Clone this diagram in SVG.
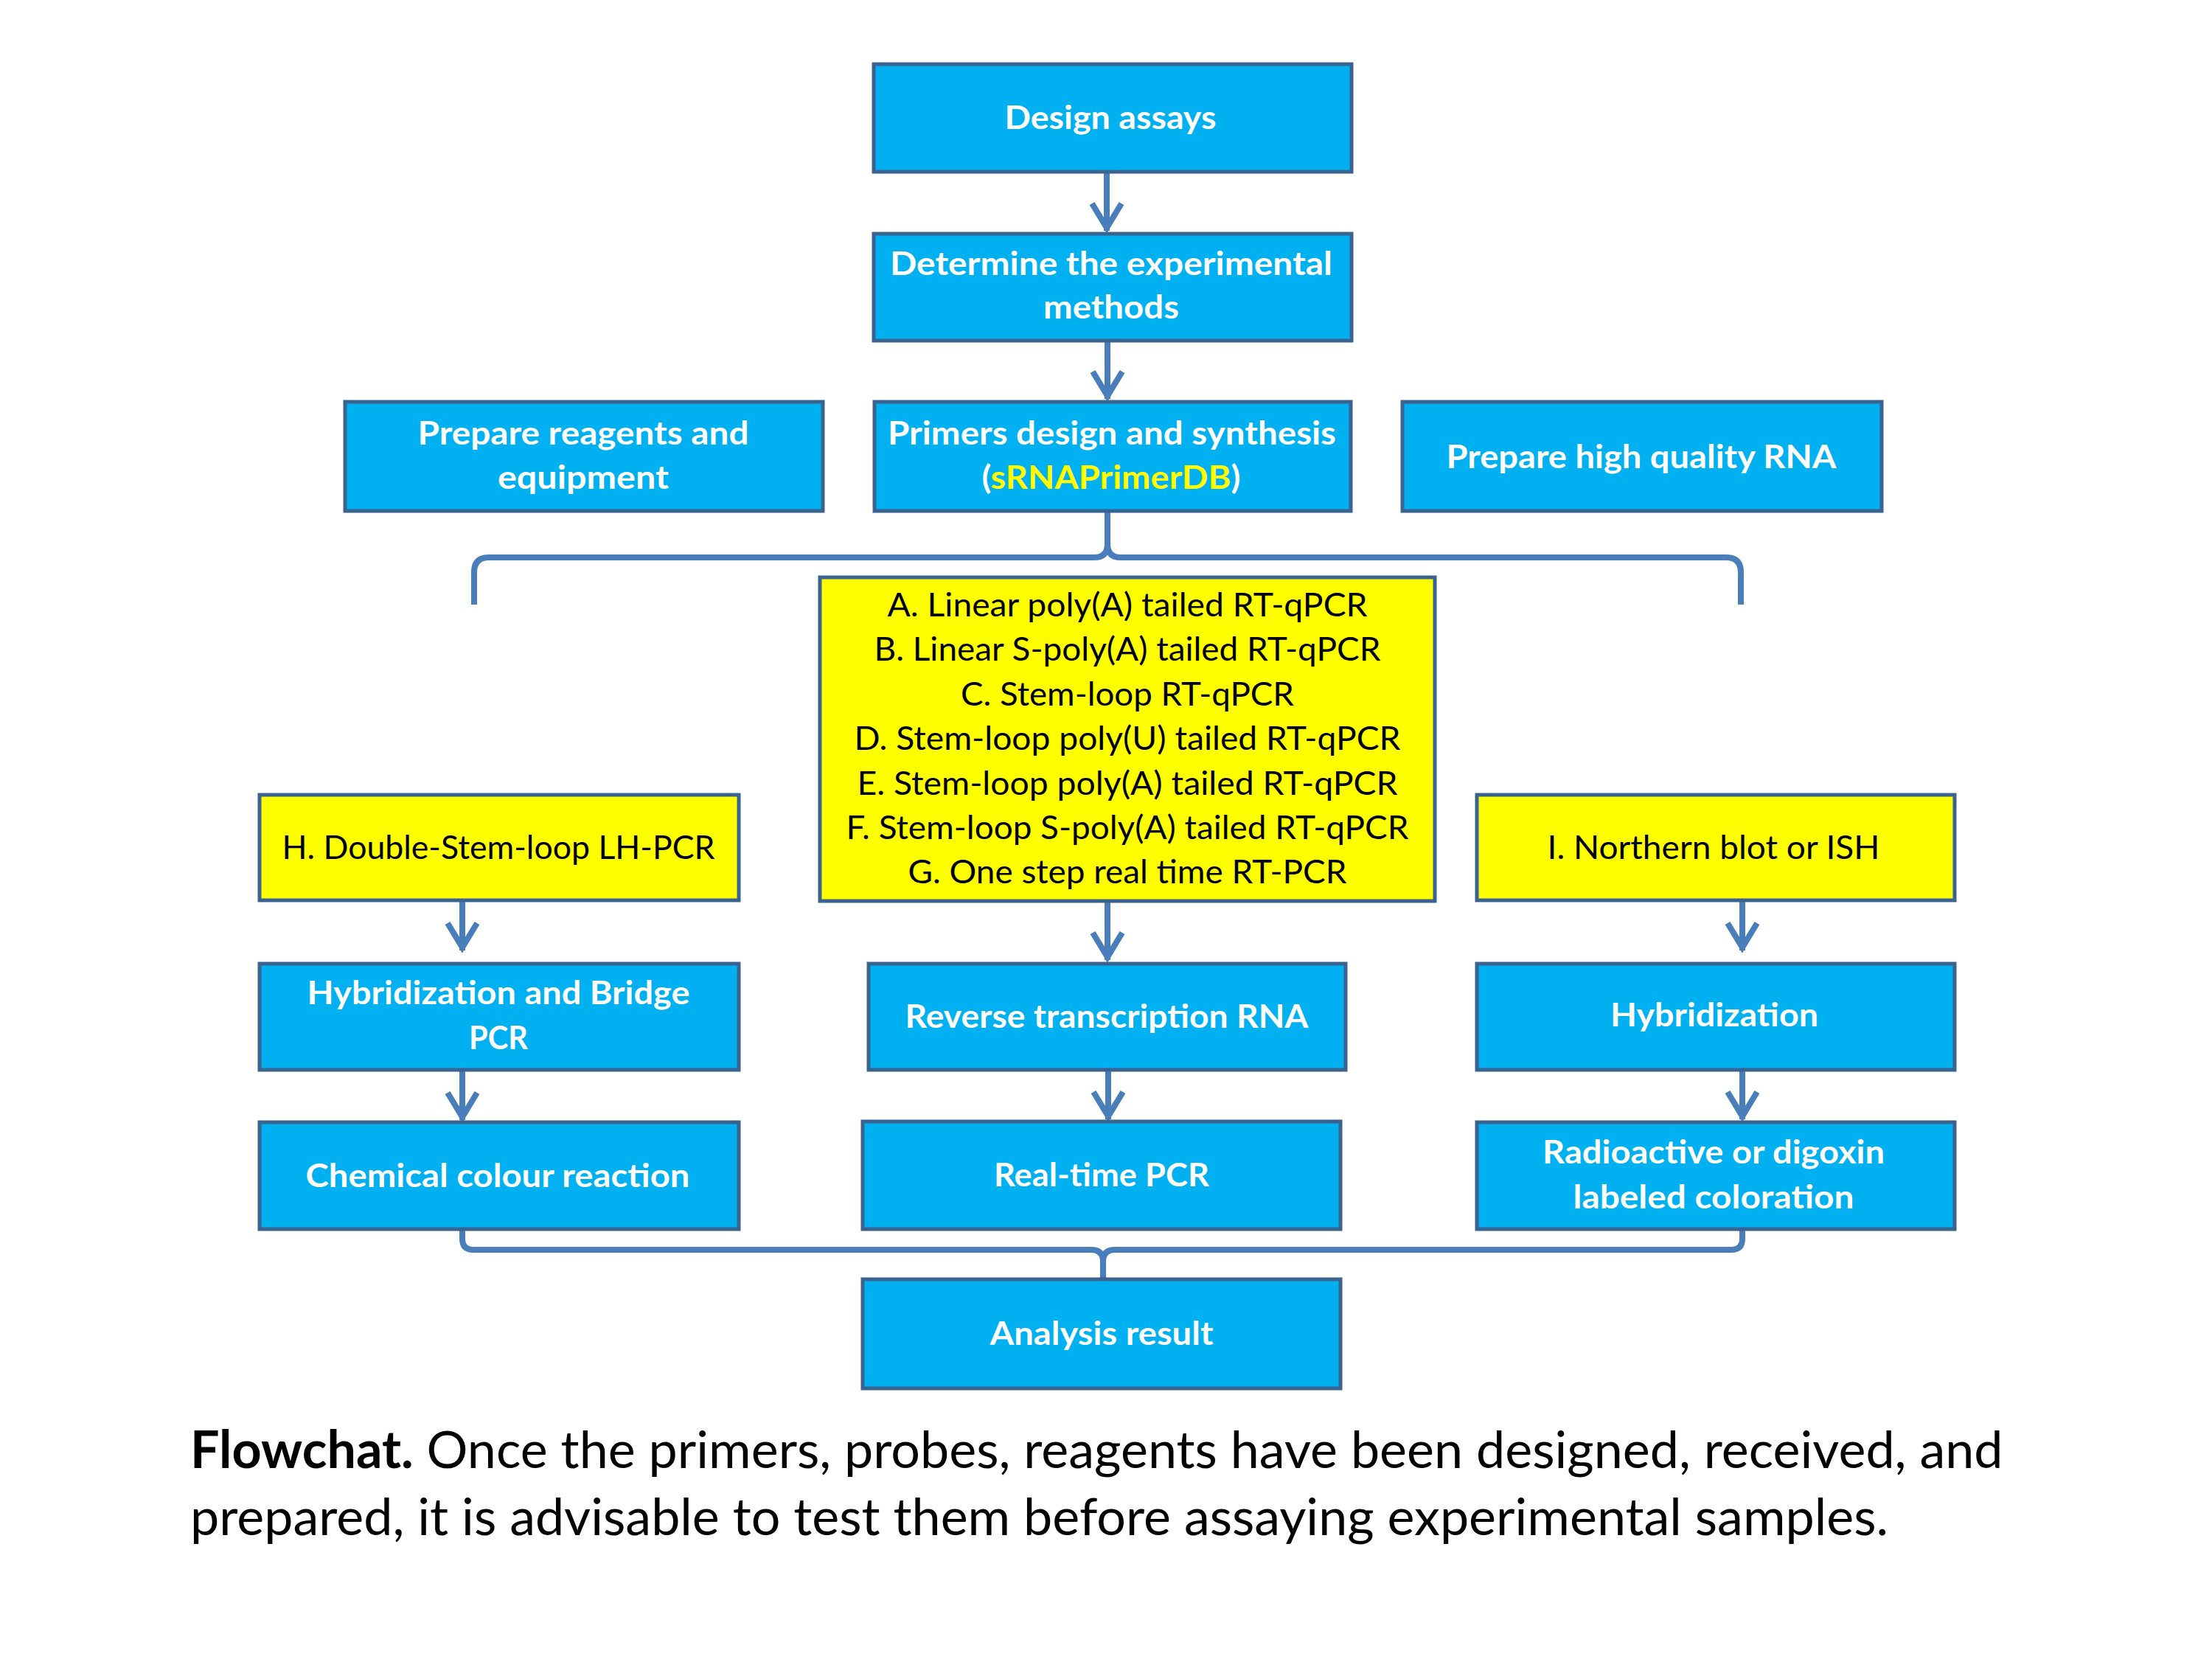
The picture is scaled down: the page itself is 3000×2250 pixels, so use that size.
<svg xmlns="http://www.w3.org/2000/svg" width="3000" height="2250" viewBox="0 0 3000 2250">
  <style>
    .blue { fill: #00B0F0; stroke: #3B6390; stroke-width: 5; }
    .yel { fill: #FFFF00; stroke: #3B6390; stroke-width: 5; }
    .wt { font-family: Lato, "Open Sans", "Liberation Sans", sans-serif; font-weight: bold; font-size: 44px; fill: #FFFFFF; text-anchor: middle; }
    .bt { font-family: Lato, "Open Sans", "Liberation Sans", sans-serif; font-size: 44px; fill: #000000; text-anchor: middle; }
    .hl { fill: #FFFF00; }
    .conn { fill: none; stroke: #4A7EBB; stroke-width: 8; }
    .cap { font-family: Lato, "Open Sans", "Liberation Sans", sans-serif; font-size: 70px; fill: #000000; }
  </style>
  <defs>
    <marker id="chev" markerUnits="userSpaceOnUse" orient="auto" refX="0" refY="0" markerWidth="60" markerHeight="60" overflow="visible">
      <path d="M -37 -20 L -4 0 L -37 20" fill="none" stroke="#4A7EBB" stroke-width="8"/>
    </marker>
  </defs>
  <rect width="3000" height="2250" fill="#FFFFFF"/>

  <g id="connectors">
    <line class="conn" x1="1501" y1="233" x2="1501" y2="313" marker-end="url(#chev)"/>
    <line class="conn" x1="1502" y1="462" x2="1502" y2="541" marker-end="url(#chev)"/>
    <path class="conn" d="M 643 820 L 643 776 Q 643 756 663 756 L 1484 756 Q 1502 756 1502 738 L 1502 693"/>
    <path class="conn" d="M 2361 820 L 2361 776 Q 2361 756 2341 756 L 1520 756 Q 1502 756 1502 738"/>
    <line class="conn" x1="1502" y1="1222" x2="1502" y2="1302" marker-end="url(#chev)"/>
    <line class="conn" x1="627" y1="1221" x2="627" y2="1289" marker-end="url(#chev)"/>
    <line class="conn" x1="627" y1="1451" x2="627" y2="1519" marker-end="url(#chev)"/>
    <line class="conn" x1="1503" y1="1451" x2="1503" y2="1518" marker-end="url(#chev)"/>
    <line class="conn" x1="2363" y1="1221" x2="2363" y2="1289" marker-end="url(#chev)"/>
    <line class="conn" x1="2363" y1="1451" x2="2363" y2="1518" marker-end="url(#chev)"/>
    <path class="conn" d="M 627 1667 L 627 1680 Q 627 1695 642 1695 L 1480 1695 Q 1496 1695 1496 1711 L 1496 1735"/>
    <path class="conn" d="M 2363 1667 L 2363 1680 Q 2363 1695 2348 1695 L 1512 1695 Q 1496 1695 1496 1711"/>
  </g>

  <g id="design-assays">
    <rect class="blue" x="1185" y="87" width="648" height="146"/>
    <text class="wt" x="1506" y="175" textLength="287" lengthAdjust="spacingAndGlyphs">Design assays</text>
  </g>
  <g id="determine-methods">
    <rect class="blue" x="1185" y="317" width="648" height="145"/>
    <text class="wt" x="1507" y="373" textLength="600" lengthAdjust="spacingAndGlyphs">Determine the experimental</text>
    <text class="wt" x="1507" y="432" textLength="184" lengthAdjust="spacingAndGlyphs">methods</text>
  </g>
  <g id="prepare-reagents">
    <rect class="blue" x="468" y="545" width="648" height="148"/>
    <text class="wt" x="791" y="603" textLength="449" lengthAdjust="spacingAndGlyphs">Prepare reagents and</text>
    <text class="wt" x="791" y="663" textLength="232" lengthAdjust="spacingAndGlyphs">equipment</text>
  </g>
  <g id="primers-design">
    <rect class="blue" x="1186" y="545" width="646" height="148"/>
    <text class="wt" x="1508" y="603" textLength="608" lengthAdjust="spacingAndGlyphs">Primers design and synthesis</text>
    <text class="wt" x="1507" y="663" textLength="351" lengthAdjust="spacingAndGlyphs">(<tspan class="hl">sRNAPrimerDB</tspan>)</text>
  </g>
  <g id="prepare-rna">
    <rect class="blue" x="1902" y="545" width="650" height="148"/>
    <text class="wt" x="2226" y="635" textLength="529" lengthAdjust="spacingAndGlyphs">Prepare high quality RNA</text>
  </g>
  <g id="methods-list">
    <rect class="yel" x="1112" y="783" width="834" height="439"/>
    <text class="bt" x="1529" y="836" textLength="651" lengthAdjust="spacingAndGlyphs">A. Linear poly(A) tailed RT-qPCR</text>
    <text class="bt" x="1529" y="896" textLength="687" lengthAdjust="spacingAndGlyphs">B. Linear S-poly(A) tailed RT-qPCR</text>
    <text class="bt" x="1529" y="957" textLength="452" lengthAdjust="spacingAndGlyphs">C. Stem-loop RT-qPCR</text>
    <text class="bt" x="1529" y="1017" textLength="741" lengthAdjust="spacingAndGlyphs">D. Stem-loop poly(U) tailed RT-qPCR</text>
    <text class="bt" x="1529" y="1078" textLength="733" lengthAdjust="spacingAndGlyphs">E. Stem-loop poly(A) tailed RT-qPCR</text>
    <text class="bt" x="1529" y="1138" textLength="763" lengthAdjust="spacingAndGlyphs">F. Stem-loop S-poly(A) tailed RT-qPCR</text>
    <text class="bt" x="1529" y="1198" textLength="595" lengthAdjust="spacingAndGlyphs">G. One step real time RT-PCR</text>
  </g>
  <g id="double-stem-loop">
    <rect class="yel" x="352" y="1078" width="650" height="143"/>
    <text class="bt" x="676" y="1165" textLength="587" lengthAdjust="spacingAndGlyphs">H. Double-Stem-loop LH-PCR</text>
  </g>
  <g id="northern-blot">
    <rect class="yel" x="2003" y="1078" width="648" height="143"/>
    <text class="bt" x="2324" y="1165" textLength="451" lengthAdjust="spacingAndGlyphs">I. Northern blot or ISH</text>
  </g>
  <g id="hybridization-bridge">
    <rect class="blue" x="352" y="1307" width="650" height="144"/>
    <text class="wt" x="676" y="1362" textLength="519" lengthAdjust="spacingAndGlyphs">Hybridization and Bridge</text>
    <text class="wt" x="676" y="1423" textLength="80" lengthAdjust="spacingAndGlyphs">PCR</text>
  </g>
  <g id="reverse-transcription">
    <rect class="blue" x="1178" y="1307" width="647" height="144"/>
    <text class="wt" x="1501" y="1394" textLength="547" lengthAdjust="spacingAndGlyphs">Reverse transcription RNA</text>
  </g>
  <g id="hybridization">
    <rect class="blue" x="2003" y="1307" width="648" height="144"/>
    <text class="wt" x="2325" y="1392" textLength="282" lengthAdjust="spacingAndGlyphs">Hybridization</text>
  </g>
  <g id="chemical-colour">
    <rect class="blue" x="352" y="1522" width="650" height="145"/>
    <text class="wt" x="675" y="1610" textLength="521" lengthAdjust="spacingAndGlyphs">Chemical colour reaction</text>
  </g>
  <g id="real-time-pcr">
    <rect class="blue" x="1170" y="1521" width="648" height="146"/>
    <text class="wt" x="1494" y="1609" textLength="292" lengthAdjust="spacingAndGlyphs">Real-time PCR</text>
  </g>
  <g id="radioactive">
    <rect class="blue" x="2003" y="1522" width="648" height="145"/>
    <text class="wt" x="2324" y="1578" textLength="464" lengthAdjust="spacingAndGlyphs">Radioactive or digoxin</text>
    <text class="wt" x="2324" y="1639" textLength="381" lengthAdjust="spacingAndGlyphs">labeled coloration</text>
  </g>
  <g id="analysis-result">
    <rect class="blue" x="1170" y="1735" width="648" height="148"/>
    <text class="wt" x="1494" y="1824" textLength="303" lengthAdjust="spacingAndGlyphs">Analysis result</text>
  </g>

  <g id="caption">
    <text class="cap" x="258" y="1991"><tspan font-weight="bold">Flowchat.</tspan> Once the primers, probes, reagents have been designed, received, and</text>
    <text class="cap" x="258" y="2082">prepared, it is advisable to test them before assaying experimental samples.</text>
  </g>
</svg>
